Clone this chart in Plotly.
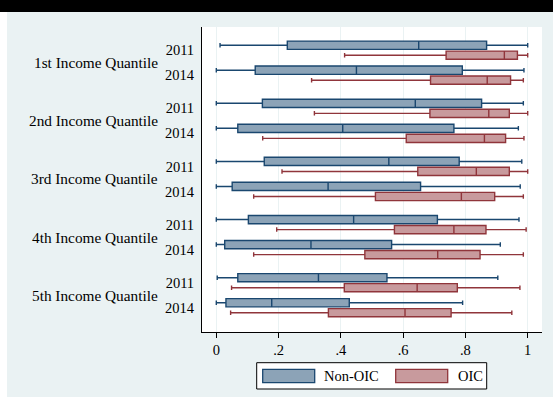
import plotly.graph_objects as go

# Income quantiles and survey years (rows run quantile by quantile, 2011 then 2014)
quantiles = ["1st Income Quantile", "2nd Income Quantile", "3rd Income Quantile",
             "4th Income Quantile", "5th Income Quantile"]
years = ["2011", "2014"]

# Box statistics per row: whisker ends, quartiles and median
nonoic_lower = [0.012, 0.000, 0.000, 0.000, 0.000, 0.000, 0.000, 0.000, 0.003, 0.000]
nonoic_q1 = [0.228, 0.125, 0.148, 0.069, 0.154, 0.051, 0.103, 0.027, 0.069, 0.031]
nonoic_median = [0.650, 0.450, 0.639, 0.406, 0.554, 0.359, 0.441, 0.304, 0.328, 0.178]
nonoic_q3 = [0.868, 0.790, 0.852, 0.763, 0.780, 0.656, 0.710, 0.563, 0.548, 0.427]
nonoic_upper = [1.000, 0.988, 0.986, 0.970, 0.981, 0.976, 0.972, 0.912, 0.904, 0.791]

oic_lower = [0.412, 0.306, 0.315, 0.149, 0.211, 0.120, 0.194, 0.120, 0.049, 0.046]
oic_q1 = [0.738, 0.688, 0.686, 0.610, 0.647, 0.511, 0.572, 0.477, 0.411, 0.360]
oic_median = [0.925, 0.870, 0.875, 0.861, 0.835, 0.787, 0.763, 0.711, 0.645, 0.606]
oic_q3 = [0.967, 0.945, 0.941, 0.929, 0.941, 0.894, 0.866, 0.847, 0.774, 0.754]
oic_upper = [1.000, 0.986, 1.000, 0.988, 1.000, 0.986, 0.995, 0.986, 0.975, 0.949]

x_ticks = [0, 0.2, 0.4, 0.6, 0.8, 1.0]
x_tick_labels = ["0", ".2", ".4", ".6", ".8", "1"]

# Stata s2color palette
NAVY = "#1a476f"
NAVY_FILL = "#8ca3b7"
MAROON = "#90353b"
MAROON_FILL = "#c89a9d"
BG = "#eaf2f3"
FONT = "Liberation Serif"
FS = 14.5
FS_GROUP = 15.3

# Row layout: one slot per year, a wider gap between quantiles
GROUP_STEP = 2.325
OFFSET = 0.2
BOX_WIDTH = 0.33
row_pos = [g * GROUP_STEP + k for g in range(len(quantiles)) for k in range(len(years))]
row_labels = [y for _ in quantiles for y in years]

# Figure geometry (pixels)
W, H = 553, 399
L, R, T, B = 202, 542, 27, 332


def px(xp):
    return (xp - L) / (R - L)


def py(yp):
    return (B - yp) / (B - T)


fig = go.Figure()

for name, lo, q1, med, q3, hi, line_c, fill_c, off in [
    ("Non-OIC", nonoic_lower, nonoic_q1, nonoic_median, nonoic_q3, nonoic_upper, NAVY, NAVY_FILL, -OFFSET),
    ("OIC", oic_lower, oic_q1, oic_median, oic_q3, oic_upper, MAROON, MAROON_FILL, OFFSET),
]:
    fig.add_trace(go.Box(
        name=name,
        orientation="h",
        y=[p + off for p in row_pos],
        lowerfence=lo, q1=q1, median=med, q3=q3, upperfence=hi,
        width=BOX_WIDTH,
        whiskerwidth=0.55,
        boxpoints=False,
        line=dict(color=line_c, width=1.4),
        fillcolor=fill_c,
        showlegend=False,
    ))

shapes = [
    # white strip at the left edge, dark band along the top, thin strip at the bottom
    dict(type="rect", xref="paper", yref="paper", x0=px(-5), x1=px(7), y0=py(410), y1=py(-5),
         fillcolor="white", line_width=0, layer="below"),
    dict(type="rect", xref="paper", yref="paper", x0=px(-5), x1=px(W + 5), y0=py(12), y1=py(-5),
         fillcolor="black", line_width=0, layer="below"),
    dict(type="rect", xref="paper", yref="paper", x0=px(-5), x1=px(W + 5), y0=py(410), y1=py(397),
         fillcolor="white", line_width=0, layer="below"),
    # legend frame and keys
    dict(type="rect", xref="paper", yref="paper", x0=px(256.7), x1=px(486.7), y0=py(389), y1=py(362.7),
         fillcolor="white", line=dict(color="black", width=1)),
    dict(type="rect", xref="paper", yref="paper", x0=px(262.7), x1=px(314.7), y0=py(382.7), y1=py(369.3),
         fillcolor=NAVY_FILL, line=dict(color=NAVY, width=1.3)),
    dict(type="rect", xref="paper", yref="paper", x0=px(395.7), x1=px(447.7), y0=py(382.7), y1=py(369.3),
         fillcolor=MAROON_FILL, line=dict(color=MAROON, width=1.3)),
]

annotations = [
    dict(text="Non-OIC", xref="paper", yref="paper", x=px(321.5), y=py(376), xanchor="left", yanchor="middle",
         showarrow=False, font=dict(family=FONT, size=FS, color="black")),
    dict(text="OIC", xref="paper", yref="paper", x=px(455.5), y=py(376), xanchor="left", yanchor="middle",
         showarrow=False, font=dict(family=FONT, size=FS, color="black")),
]
for g, q in enumerate(quantiles):
    centre = (row_pos[2 * g] + row_pos[2 * g + 1]) / 2
    annotations.append(dict(text=q, xref="paper", yref="y", x=px(160), y=centre,
                            xanchor="right", yanchor="middle", showarrow=False,
                            font=dict(family=FONT, size=FS_GROUP, color="black")))

y_top = (T - 50.2) / 25
y_bot = (B - 50.2) / 25

fig.update_layout(
    width=W, height=H,
    margin=dict(l=L, r=W - R, t=T, b=H - B),
    paper_bgcolor=BG,
    plot_bgcolor="white",
    boxmode="overlay",
    font=dict(family=FONT, size=FS, color="black"),
    shapes=shapes,
    annotations=annotations,
    xaxis=dict(
        range=[(L - 216.3) / 311.4, (R - 216.3) / 311.4],
        tickvals=x_ticks, ticktext=x_tick_labels,
        ticks="outside", ticklen=5, tickwidth=1, tickcolor="black",
        showline=True, linecolor="black", linewidth=1,
        showgrid=True, gridcolor=BG, gridwidth=1,
        zeroline=False,
        tickfont=dict(family=FONT, size=FS, color="black"),
    ),
    yaxis=dict(
        range=[y_bot, y_top],
        tickvals=row_pos, ticktext=row_labels,
        ticks="", ticklabelstandoff=4,
        showline=True, linecolor="black", linewidth=1,
        showgrid=False, zeroline=False,
        tickfont=dict(family=FONT, size=FS, color="black"),
    ),
)

fig.write_html("out.html")
